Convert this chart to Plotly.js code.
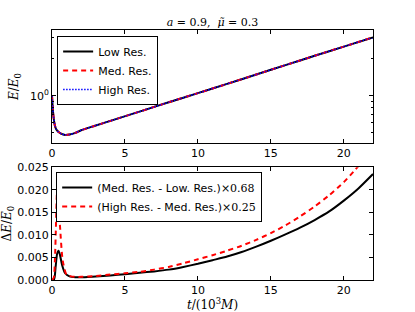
<!DOCTYPE html>
<html>
<head>
<meta charset="utf-8">
<script src="https://cdn.plot.ly/plotly-3.0.1.min.js"></script>
<style>html,body{margin:0;padding:0;background:#fff;}#chart{width:415px;height:312px;}</style>
</head>
<body>
<div id="chart"></div>
<script>
// ---- Top panel: E/E0 vs t (10^3 M) ----
const tTop = [0, 0.05, 0.1, 0.2, 0.3, 0.45, 0.65, 0.9, 1.2, 1.6, 2, 3, 4, 6, 8, 10, 12, 14, 16, 18, 20, 22];
const lowRes  = [1.0, 0.80, 0.68, 0.57, 0.53, 0.505, 0.488, 0.479, 0.482, 0.497, 0.523, 0.571, 0.623, 0.742, 0.885, 1.05, 1.25, 1.49, 1.78, 2.12, 2.52, 3.0];
const medRes  = [1.0, 0.80, 0.68, 0.57, 0.53, 0.505, 0.488, 0.479, 0.482, 0.497, 0.523, 0.571, 0.623, 0.742, 0.885, 1.05, 1.25, 1.49, 1.78, 2.12, 2.52, 3.0];
const highRes = [1.0, 0.80, 0.68, 0.57, 0.53, 0.505, 0.488, 0.479, 0.482, 0.497, 0.523, 0.571, 0.623, 0.742, 0.885, 1.05, 1.25, 1.49, 1.78, 2.12, 2.52, 3.0];

// ---- Bottom panel: scaled differences ----
const tMedLow = [0, 0.15, 0.25, 0.35, 0.45, 0.55, 0.7, 0.9, 1.2, 1.6, 2, 3, 4, 5, 6, 7, 8, 9, 10, 11, 12, 13, 14, 15, 16, 17, 18, 19, 20, 21, 22];
const medLow  = [0, 0.0002, 0.003, 0.0058, 0.0065, 0.0055, 0.0032, 0.0015, 0.0008, 0.0006, 0.0006, 0.0008, 0.001, 0.0013, 0.0016, 0.0019, 0.0023, 0.0029, 0.0036, 0.0044, 0.0052, 0.0062, 0.0074, 0.0087, 0.0101, 0.0116, 0.0133, 0.0152, 0.0176, 0.0203, 0.0235];
const tHighMed = [0, 0.12, 0.2, 0.27, 0.35, 0.43, 0.55, 0.73, 1.0, 1.3, 1.6, 2, 3, 4, 5, 6, 7, 8, 9, 10, 11, 12, 13, 14, 15, 16, 17, 18, 19, 20, 20.8, 21.5];
const highMed  = [0, 0.0005, 0.0044, 0.0118, 0.0200, 0.0175, 0.0118, 0.0044, 0.0011, 0.0008, 0.0007, 0.0007, 0.0009, 0.0012, 0.0015, 0.0018, 0.0023, 0.0029, 0.0037, 0.0046, 0.0055, 0.0065, 0.0076, 0.0089, 0.0104, 0.0121, 0.0141, 0.0163, 0.0188, 0.0217, 0.0245, 0.0272];

const xTicks = [0, 5, 10, 15, 20];
const yBotTicks = [0, 0.005, 0.010, 0.015, 0.020, 0.025];

const serif = "'DejaVu Serif', 'Liberation Serif', serif";
const sans = "'DejaVu Sans', sans-serif";

const traces = [
  {x: tTop, y: lowRes, name: 'Low Res.', mode: 'lines', line: {color: '#000', width: 2, shape: 'spline', smoothing: 0.6}, xaxis: 'x', yaxis: 'y', legend: 'legend'},
  {x: tTop, y: medRes, name: 'Med. Res.', mode: 'lines', line: {color: '#ff0000', width: 2, dash: '5px,4px', shape: 'spline', smoothing: 0.6}, xaxis: 'x', yaxis: 'y', legend: 'legend'},
  {x: tTop, y: highRes, name: 'High Res.', mode: 'lines', line: {color: '#0000ff', width: 1.5, dash: '1.5px,1.5px', shape: 'spline', smoothing: 0.6}, xaxis: 'x', yaxis: 'y', legend: 'legend'},
  {x: tMedLow, y: medLow, name: "(Med. Res. - Low. Res.)<span style=\"font-family:'DejaVu Serif'\">×0.68</span>", mode: 'lines', line: {color: '#000', width: 2, shape: 'spline', smoothing: 0.6}, xaxis: 'x2', yaxis: 'y2', legend: 'legend2'},
  {x: tHighMed, y: highMed, name: "(High Res. - Med. Res.)<span style=\"font-family:'DejaVu Serif'\">×0.25</span>", mode: 'lines', line: {color: '#ff0000', width: 2, dash: '5px,4px', shape: 'spline', smoothing: 0.6}, xaxis: 'x2', yaxis: 'y2', legend: 'legend2'}
];

const axCommon = {showline: true, linecolor: '#000', linewidth: 1, mirror: 'ticks', ticks: 'inside', ticklen: 4, tickcolor: '#000', showgrid: false, zeroline: false, tickfont: {family: sans, size: 11, color: '#000'}};

const layout = {
  width: 415, height: 312,
  margin: {l: 52, r: 42, t: 30, b: 32},
  paper_bgcolor: '#fff', plot_bgcolor: '#fff',
  showlegend: true,
  title: {text: '<i>a</i> = 0.9,  <i>μ̃</i> = 0.3', font: {family: serif, size: 11, color: '#000'}, x: 0.5, xref: 'paper', y: 1, yref: 'paper', yanchor: 'bottom', pad: {b: 4}},
  xaxis: Object.assign({}, axCommon, {domain: [0, 1], anchor: 'y', range: [0, 22], tickvals: xTicks, ticktext: xTicks.map(String)}),
  yaxis: Object.assign({}, axCommon, {domain: [0.547, 1], anchor: 'x', type: 'log', range: [-0.388, 0.537], tickvals: [1], ticktext: ['10<sup>0</sup>'],
    minor: {tickvals: [0.5, 0.6, 0.7, 0.8, 0.9, 2, 3], ticks: 'inside', ticklen: 2, tickcolor: '#000'},
    title: {text: '<i>E</i>/<i>E</i><sub>0</sub>', font: {family: serif, size: 12, color: '#000'}, standoff: 8}}),
  xaxis2: Object.assign({}, axCommon, {domain: [0, 1], anchor: 'y2', range: [0, 22], tickvals: xTicks, ticktext: xTicks.map(String),
    title: {text: '<i>t</i>/(10<sup>3</sup><i>M</i>)', font: {family: serif, size: 12, color: '#000'}, standoff: 2}}),
  yaxis2: Object.assign({}, axCommon, {domain: [0, 0.451], anchor: 'x2', range: [0, 0.025], tickvals: yBotTicks, ticktext: yBotTicks.map(v => v.toFixed(3)),
    title: {text: 'Δ<i>E</i>/<i>E</i><sub>0</sub>', font: {family: serif, size: 12, color: '#000'}, standoff: 4}}),
  legend: {x: 0.016, y: 0.976, xanchor: 'left', yanchor: 'top', bgcolor: '#fff', bordercolor: '#000', borderwidth: 1, font: {family: sans, size: 11, color: '#000'}, tracegroupgap: 0, itemwidth: 30},
  legend2: {x: 0.013, y: 0.432, xanchor: 'left', yanchor: 'top', bgcolor: '#fff', bordercolor: '#000', borderwidth: 1, font: {family: sans, size: 11, color: '#000'}, tracegroupgap: 0, itemwidth: 30}
};

Plotly.newPlot('chart', traces, layout, {staticPlot: true, displayModeBar: false});
</script>
</body>
</html>
